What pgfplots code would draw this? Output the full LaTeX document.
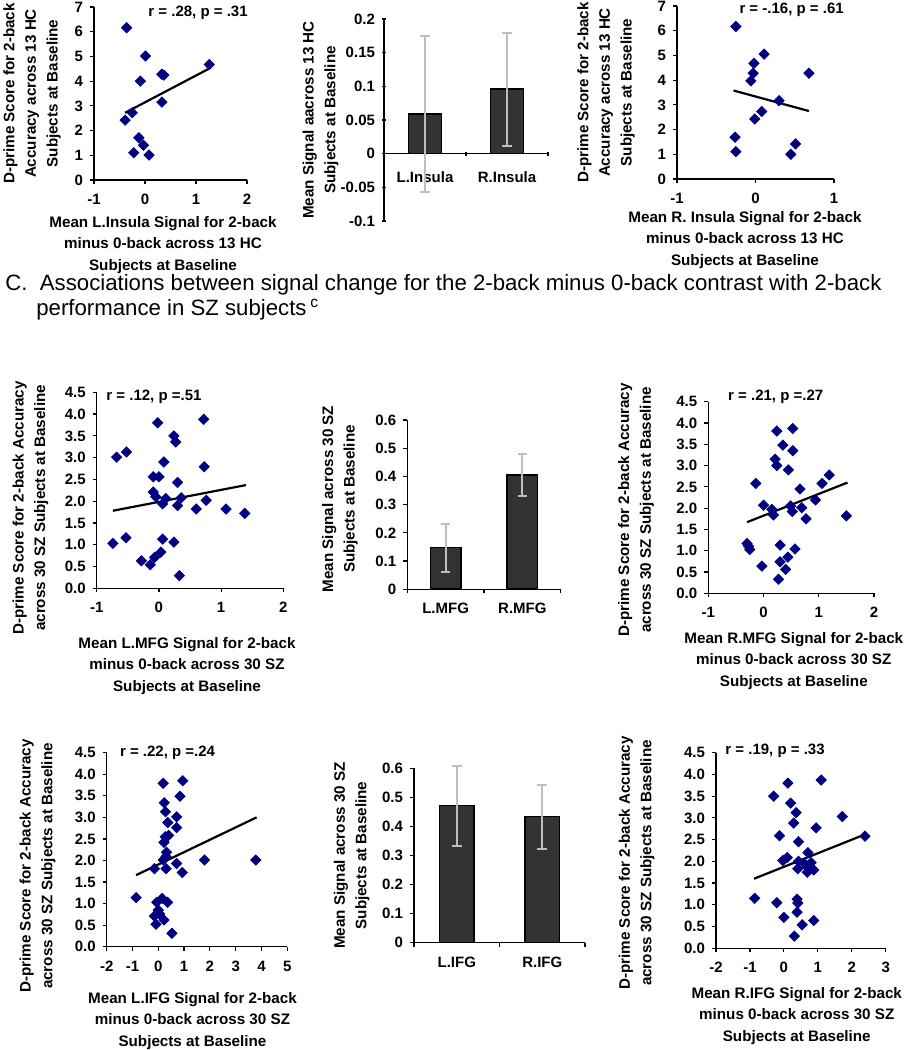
\documentclass[border=0pt]{standalone}
\usepackage{fontspec}
\setmainfont{Liberation Sans}
\usepackage{pgfplots}
\pgfplotsset{compat=1.18}
\definecolor{dnavy}{RGB}{0,0,128}
\definecolor{bargray}{RGB}{51,51,51}
\definecolor{errgray}{RGB}{190,190,190}

\tikzset{note/.style={font=\bfseries\fontsize{7.5}{9}\selectfont}}
\pgfplotsset{
  panel/.style={scale only axis, anchor=south west, axis lines=left,
    axis line style={-, line width=0.6pt}, tick align=outside,
    major tick length=2pt, minor tick length=2pt, tick style={black, line width=0.6pt},
    ticklabel style={font=\bfseries\fontsize{7.5}{9}\selectfont},
    xticklabel style={yshift=-1.5pt},
    label style={font=\bfseries\fontsize{7.6}{10.8}\selectfont, align=center},
    clip=false},
  dots/.style={only marks, mark=square*, mark size=1.8pt,
    mark options={rotate=45, fill=dnavy, draw=dnavy}},
  trend/.style={black, line width=1.1pt, mark=none},
  bars/.style={fill=bargray, draw=black, line width=0.8pt,
    error bars/y dir=both, error bars/y explicit,
    error bars/error bar style={errgray, line width=1pt},
    error bars/error mark options={rotate=90, mark size=2.4pt, errgray, line width=1pt}},
  cats/.style={ybar, bar width=0.4, xmin=0, xmax=2, xtick={0.5,1.5},
    minor xtick={0,1,2}, major x tick style={draw=none}},
  sz/.style={ymin=0, ymax=4.5, ytick={0,0.5,...,4.5},
    yticklabels={0.0,0.5,1.0,1.5,2.0,2.5,3.0,3.5,4.0,4.5}},
}

\begin{document}
\begin{tikzpicture}
\path[use as bounding box] (0,0) rectangle (452pt,525pt);

% ---- top row: HC subjects
\begin{axis}[panel, at={(47pt,435pt)}, width=76.5pt, height=86.5pt,
  xmin=-1, xmax=2, ymin=0, ymax=7, xtick={-1,0,1,2}, xticklabels={-1,0,1,2},
  ytick={0,...,7}, yticklabels={0,1,2,3,4,5,6,7},
  xlabel={Mean L.Insula Signal for 2-back\\minus 0-back across 13 HC\\Subjects at Baseline},
  xlabel style={at={(axis description cs:0.451,-0.376)}, anchor=center},
  ylabel={D-prime Score for 2-back\\Accuracy across 13 HC\\Subjects at Baseline},
  ylabel style={at={(axis description cs:-0.405,0.5)}, anchor=center}]
\addplot[dots] coordinates {(-0.36,6.16) (0.01,5.02) (-0.09,4.0) (0.33,4.28) (0.37,4.24)
  (1.26,4.67) (0.33,3.15) (-0.25,2.72) (-0.39,2.42) (-0.12,1.71) (-0.03,1.41)
  (-0.22,1.10) (0.08,1.01)};
\addplot[trend] coordinates {(-0.39,2.72) (1.26,4.51)};
\node[note] at (rel axis cs:0.68,0.965) {r = .28, p = .31};
\end{axis}

\begin{axis}[panel, cats, at={(192pt,414.5pt)}, width=82pt, height=101pt,
  ymin=-0.1, ymax=0.2, axis x line=middle, axis y line=left,
  inner axis line style={-}, outer axis line style={-}, xticklabel style={yshift=-3pt},
  hide obscured x ticks=false, hide obscured y ticks=false,
  xticklabels={L.Insula,R.Insula},
  ytick={-0.1,-0.05,0,0.05,0.1,0.15,0.2}, yticklabels={-0.1,-0.05,0,0.05,0.1,0.15,0.2},
  ylabel={Mean Signal aacross 13 HC\\Subjects at Baseline},
  ylabel style={at={(axis description cs:-0.387,0.5)}, anchor=center}]
\addplot[bars] coordinates {(0.5,0.0585) +- (0,0.116) (1.5,0.0957) +- (0,0.0836)};
\end{axis}

\begin{axis}[panel, at={(338.5pt,435.5pt)}, width=78.5pt, height=86.5pt,
  xmin=-1, xmax=1, ymin=0, ymax=7, xtick={-1,0,1}, xticklabels={-1,0,1},
  ytick={0,...,7}, yticklabels={0,1,2,3,4,5,6,7},
  xlabel={Mean R. Insula Signal for 2-back\\minus 0-back across 13 HC\\Subjects at Baseline},
  xlabel style={at={(axis description cs:0.433,-0.353)}, anchor=center},
  ylabel={D-prime Score for 2-back\\Accuracy across 13 HC\\Subjects at Baseline},
  ylabel style={at={(axis description cs:-0.452,0.5)}, anchor=center}]
\addplot[dots] coordinates {(-0.25,6.17) (0.11,5.05) (-0.02,4.68) (-0.03,4.28) (-0.06,3.97)
  (0.68,4.28) (0.30,3.17) (0.08,2.73) (-0.01,2.43) (-0.26,1.69) (-0.25,1.11)
  (0.45,1.0) (0.51,1.42)};
\addplot[trend] coordinates {(-0.28,3.58) (0.68,2.75)};
\node[note] at (rel axis cs:0.73,0.977) {r = -.16, p = .61};
\end{axis}

\node[anchor=west, inner sep=0, font=\fontsize{11.1}{12}\selectfont] at (2.5pt,382.5pt)
  {C.\ \ Associations between signal change for the 2-back minus 0-back contrast with 2-back};
\node[anchor=west, inner sep=0, font=\fontsize{11.1}{12}\selectfont] at (18pt,370pt)
  {performance in SZ subjects\,\textsuperscript{c}};

% ---- middle row: MFG
\begin{axis}[panel, sz, at={(48.35pt,230.85pt)}, width=93.3pt, height=98pt,
  xmin=-1, xmax=2, xtick={-1,0,1,2}, xticklabels={-1,0,1,2},
  xlabel={Mean L.MFG Signal for 2-back\\minus 0-back across 30 SZ\\Subjects at Baseline},
  xlabel style={at={(axis description cs:0.484,-0.396)}, anchor=center},
  ylabel={D-prime Score for 2-back Accuracy\\across 30 SZ Subjects at Baseline},
  ylabel style={at={(axis description cs:-0.355,0.41)}, anchor=center}]
\addplot[dots] coordinates {(-0.02,3.80) (0.72,3.88) (0.24,3.50) (0.27,3.36) (-0.68,3.01)
  (-0.52,3.13) (0.08,2.90) (0.73,2.79) (-0.09,2.56) (0.0,2.56) (0.30,2.43) (-0.09,2.21)
  (-0.05,2.10) (0.11,2.06) (0.36,2.08) (0.06,1.94) (0.30,1.90) (0.76,2.02) (0.60,1.82)
  (1.08,1.82) (1.38,1.72) (-0.74,1.03) (-0.53,1.16) (0.06,1.13) (0.24,1.06) (-0.28,0.63)
  (-0.14,0.54) (-0.07,0.71) (0.03,0.83) (0.33,0.29)};
\addplot[trend] coordinates {(-0.74,1.78) (1.40,2.37)};
\node[note] at (rel axis cs:0.307,0.978) {r = .12, p =.51};
\end{axis}

\begin{axis}[panel, cats, at={(203.65pt,230.35pt)}, width=76.7pt, height=84.65pt,
  ymin=0, ymax=0.6, xticklabels={L.MFG,R.MFG},
  ytick={0,0.1,...,0.6}, yticklabels={0,0.1,0.2,0.3,0.4,0.5,0.6},
  ylabel={Mean Signal across 30 SZ\\Subjects at Baseline},
  ylabel style={at={(axis description cs:-0.439,0.533)}, anchor=center}]
\addplot[bars] coordinates {(0.5,0.148) +- (0,0.085) (1.5,0.406) +- (0,0.074)};
\end{axis}

\begin{axis}[panel, sz, at={(354.15pt,228.35pt)}, width=82.85pt, height=95.8pt,
  xmin=-1, xmax=2, xtick={-1,0,1,2}, xticklabels={-1,0,1,2},
  xlabel={Mean R.MFG Signal for 2-back\\minus 0-back across 30 SZ\\Subjects at Baseline},
  xlabel style={at={(axis description cs:0.516,-0.352)}, anchor=center},
  ylabel={D-prime Score for 2-back Accuracy\\across 30 SZ Subjects at Baseline},
  ylabel style={at={(axis description cs:-0.436,0.435)}, anchor=center}]
\addplot[dots] coordinates {(0.24,3.81) (0.53,3.87) (0.35,3.48) (0.53,3.35) (0.21,3.15)
  (0.24,3.00) (0.45,2.90) (1.19,2.78) (-0.14,2.58) (1.06,2.58) (0.66,2.45) (0.94,2.19)
  (0.0,2.07) (0.15,1.97) (0.18,1.84) (0.49,2.05) (0.69,2.01) (0.77,1.75) (1.50,1.82)
  (0.52,1.92) (-0.30,1.17) (-0.25,1.03) (-0.27,1.10) (0.30,1.13) (0.57,1.04) (0.44,0.85)
  (0.30,0.74) (-0.03,0.64) (0.40,0.56) (0.27,0.33)};
\addplot[trend] coordinates {(-0.30,1.67) (1.52,2.60)};
\node[note] at (rel axis cs:0.407,1.026) {r = .21, p =.27};
\end{axis}

% ---- bottom row: IFG
\begin{axis}[panel, sz, at={(53.35pt,51.65pt)}, width=90.3pt, height=97pt,
  xmin=-2, xmax=5, xtick={-2,...,5}, xticklabels={-2,-1,0,1,2,3,4,5},
  xlabel={Mean L.IFG Signal for 2-back\\minus 0-back across 30 SZ\\Subjects at Baseline},
  xlabel style={at={(axis description cs:0.475,-0.383)}, anchor=center},
  ylabel={D-prime Score for 2-back Accuracy\\across 30 SZ Subjects at Baseline},
  ylabel style={at={(axis description cs:-0.383,0.416)}, anchor=center}]
\addplot[dots] coordinates {(0.19,3.79) (0.95,3.85) (0.84,3.49) (0.23,3.34) (0.28,3.13)
  (0.71,3.01) (0.37,2.88) (0.71,2.76) (0.40,2.58) (0.27,2.55) (0.22,2.42) (0.32,2.19)
  (0.30,2.09) (0.19,2.01) (1.79,2.01) (3.78,2.01) (0.71,1.93) (-0.15,1.81) (0.30,1.81)
  (0.93,1.72) (-0.86,1.14) (0.15,1.12) (-0.06,1.03) (0.36,1.03) (0.0,0.85) (-0.15,0.71)
  (0.05,0.76) (0.22,0.62) (-0.09,0.52) (0.53,0.31)};
\addplot[trend] coordinates {(-0.86,1.66) (3.81,3.0)};
\node[note] at (rel axis cs:0.337,1.0) {r = .22, p =.24};
\end{axis}

\begin{axis}[panel, cats, at={(207pt,53.65pt)}, width=85.5pt, height=87.2pt,
  ymin=0, ymax=0.6, xticklabels={L.IFG,R.IFG},
  ytick={0,0.1,...,0.6}, yticklabels={0,0.1,0.2,0.3,0.4,0.5,0.6},
  ylabel={Mean Signal across 30 SZ\\Subjects at Baseline},
  ylabel style={at={(axis description cs:-0.364,0.5)}, anchor=center}]
\addplot[bars] coordinates {(0.5,0.4715) +- (0,0.138) (1.5,0.434) +- (0,0.11)};
\end{axis}

\begin{axis}[panel, sz, at={(358pt,50.85pt)}, width=84.85pt, height=97.8pt,
  xmin=-2, xmax=3, xtick={-2,...,3}, xticklabels={-2,-1,0,1,2,3},
  xlabel={Mean R.IFG Signal for 2-back\\minus 0-back across 30 SZ\\Subjects at Baseline},
  xlabel style={at={(axis description cs:0.476,-0.346)}, anchor=center},
  ylabel={D-prime Score for 2-back Accuracy\\across 30 SZ Subjects at Baseline},
  ylabel style={at={(axis description cs:-0.467,0.436)}, anchor=center}]
\addplot[dots] coordinates {(0.12,3.80) (1.10,3.87) (-0.30,3.50) (0.20,3.34) (0.36,3.12)
  (0.29,2.88) (1.72,3.03) (0.95,2.77) (-0.13,2.59) (2.39,2.58) (0.43,2.45) (0.71,2.20)
  (0.10,2.09) (-0.03,2.02) (0.43,2.0) (0.80,1.97) (0.69,1.87) (0.41,1.83) (0.88,1.80)
  (0.69,1.75) (0.60,1.95) (-0.86,1.15) (0.39,1.13) (-0.21,1.05) (0.41,1.04) (0.39,0.83)
  (0.0,0.71) (0.88,0.64) (0.54,0.54) (0.31,0.28)};
\addplot[trend] coordinates {(-0.88,1.60) (2.39,2.62)};
\node[note] at (rel axis cs:0.348,1.01) {r = .19, p = .33};
\end{axis}
\end{tikzpicture}
\end{document}
